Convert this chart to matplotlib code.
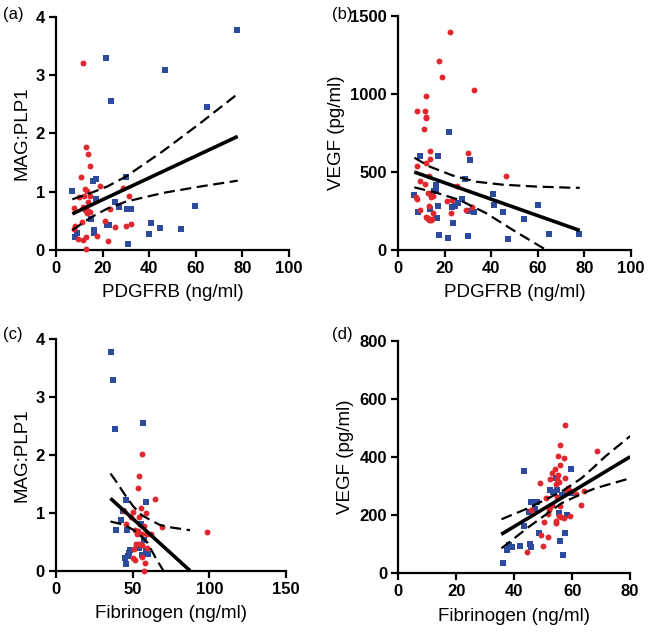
import numpy as np
import matplotlib
matplotlib.use("Agg")
import matplotlib.pyplot as plt

# ---------------------------------
# Data
# ---------------------------------
a_blue_x = [77.7, 21.3, 46.7, 23.4, 64.6, 30.0, 16.0, 17.0, 7.0, 17.1,
            25.3, 27.0, 30.6, 32.3, 59.7, 15.1, 40.7, 44.7, 53.7, 40.1,
            22.0, 22.7, 9.1, 8.3, 16.1, 16.3, 30.7]
a_blue_y = [3.78, 3.29, 3.09, 2.56, 2.46, 1.25, 1.19, 1.22, 1.02, 0.88,
            0.82, 0.74, 0.70, 0.71, 0.75, 0.53, 0.47, 0.37, 0.36, 0.28,
            0.43, 0.43, 0.29, 0.22, 0.34, 0.30, 0.11]
a_red_x = [11.4, 12.9, 13.9, 14.7, 10.9, 18.9, 28.9, 12.3, 13.1, 11.9,
           10.0, 14.6, 31.3, 13.6, 11.6, 7.7, 12.3, 13.1, 14.4, 12.9,
           13.7, 23.1, 11.3, 20.9, 25.1, 30.0, 32.3, 8.3, 7.7, 17.4,
           13.0, 9.4, 11.7, 22.3, 12.7]
a_red_y = [3.21, 1.76, 1.64, 1.44, 1.25, 1.09, 1.06, 1.04, 1.01, 0.93,
           0.91, 0.93, 0.92, 0.82, 0.74, 0.72, 0.68, 0.64, 0.65, 0.70,
           0.67, 0.70, 0.48, 0.49, 0.39, 0.42, 0.45, 0.41, 0.36, 0.24,
           0.22, 0.18, 0.17, 0.16, 0.01]
# regression line and 95% band (a)
a_fit_x = [7, 78]
a_fit_y = [0.62, 1.95]
a_band_x = [7, 15, 22, 30, 46, 62, 78]
a_band_hi = [0.87, 0.98, 1.09, 1.26, 1.70, 2.18, 2.68]
a_band_lo = [0.34, 0.56, 0.71, 0.83, 0.98, 1.09, 1.19]

b_blue_x = [21.9, 9.3, 17.1, 30.9, 28.9, 16.4, 15.4, 16.4, 6.9, 27.3,
            25.6, 24.6, 23.0, 17.1, 40.6, 41.0, 60.0, 45.0, 30.6, 32.6,
            13.6, 8.4, 54.0, 16.1, 16.6, 23.7, 65.0, 17.6, 21.6, 30.1,
            47.0, 77.5]
b_blue_y = [758, 604, 602, 574, 452, 418, 380, 378, 350, 324,
            303, 282, 277, 280, 361, 286, 290, 245, 252, 243,
            265, 241, 200, 203, 203, 175, 100, 94, 79, 87,
            70, 100]
b_red_x = [22.4, 17.7, 19.0, 32.6, 11.9, 8.3, 11.6, 12.1, 12.0, 11.0,
           13.7, 13.7, 30.1, 12.1, 8.3, 46.3, 13.3, 9.4, 11.7, 25.3,
           13.0, 14.0, 14.9, 14.0, 7.7, 8.0, 21.0, 23.1, 13.3, 31.7,
           9.4, 29.1, 14.9, 22.7, 12.0, 12.9, 13.3, 14.0, 14.6, 12.6]
b_red_y = [1398, 1212, 1105, 1022, 988, 892, 888, 849, 843, 775,
           636, 583, 623, 555, 540, 474, 476, 444, 420, 412,
           363, 354, 344, 341, 337, 329, 314, 318, 284, 277,
           256, 256, 239, 235, 212, 203, 195, 190, 198, 203]
b_fit_x = [7, 78]
b_fit_y = [499, 125]
b_hi_x = [7, 13.6, 23.6, 33.6, 45, 59.3, 73.6, 78]
b_hi_y = [591, 534, 476, 437, 418, 406, 399, 398]
b_lo_x = [7, 16.4, 26.4, 37.9, 49.3, 63.6]
b_lo_y = [401, 367, 320, 235, 128, 0]

c_blue_x = [35.9, 37.4, 38.5, 57.0, 45.9, 58.9, 43.5, 42.4, 39.3, 46.1,
            55.7, 57.6, 48.3, 47.4, 46.7, 45.2, 45.4, 58.5, 60.0, 55.9,
            52.8, 54.1]
c_blue_y = [3.78, 3.29, 2.45, 2.56, 1.22, 1.18, 1.03, 0.87, 0.70, 0.71,
            0.81, 0.53, 0.36, 0.30, 0.25, 0.22, 0.11, 0.36, 0.28, 0.27,
            0.44, 0.40]
c_red_x = [56.1, 54.3, 53.7, 64.3, 55.2, 50.4, 58.7, 44.3, 49.1, 54.1,
           45.9, 57.4, 51.7, 53.5, 69.1, 98.5, 56.3, 53.0, 59.1, 61.7,
           52.2, 54.3, 51.1, 56.1, 59.3, 50.0, 51.5, 56.1, 57.8, 57.4]
c_red_y = [2.02, 1.63, 1.43, 1.24, 1.08, 1.02, 0.99, 1.03, 0.92, 0.92,
           0.80, 0.78, 0.70, 0.69, 0.75, 0.67, 0.63, 0.63, 0.63, 0.63,
           0.46, 0.46, 0.37, 0.45, 0.39, 0.22, 0.18, 0.23, 0.14, 0.0]
c_fit_x = [35.5, 87.4]
c_fit_y = [1.25, 0.0]
c_hi_x = [35.5, 38.5, 45, 50.4, 55.9, 61.3, 67.8, 74.4, 87.4]
c_hi_y = [1.68, 1.57, 1.31, 1.11, 0.96, 0.88, 0.79, 0.75, 0.70]
c_lo_x = [35.5, 45, 52.6, 59.2, 64.6, 70]
c_lo_y = [0.85, 0.79, 0.67, 0.50, 0.24, 0.0]

d_blue_x = [36.0, 37.4, 38.2, 39.1, 42.1, 45.4, 45.7, 43.3, 43.3, 45.8,
            47.8, 47.0, 45.2, 48.6, 52.2, 53.5, 54.7, 56.6, 58.2, 59.5,
            54.5, 59.6, 55.5, 58.3, 57.6, 55.8, 56.7]
d_blue_y = [37, 79, 97, 91, 94, 102, 89, 351, 164, 244,
            246, 222, 211, 138, 285, 280, 285, 268, 283, 275,
            327, 360, 206, 199, 138, 111, 63]
d_red_x = [57.4, 55.8, 68.4, 55.2, 57.2, 55.9, 54.0, 52.9, 55.0, 54.6,
           52.3, 57.5, 55.5, 54.3, 49.0, 58.5, 59.3, 58.2, 61.4, 64.0,
           63.2, 51.0, 54.6, 53.0, 52.3, 51.9, 55.9, 45.7, 51.6, 55.4,
           56.3, 57.1, 59.2, 54.3, 54.3, 50.1, 49.1, 51.5, 50.0, 44.3]
d_red_y = [511, 442, 420, 404, 395, 374, 359, 345, 337, 323,
           323, 327, 313, 306, 312, 292, 282, 282, 273, 283,
           236, 259, 263, 236, 229, 218, 232, 217, 203, 198,
           193, 190, 197, 180, 172, 175, 131, 125, 94, 74]
d_fit_x = [35.5, 80]
d_fit_y = [134, 401]
d_hi_x = [35.6, 44.8, 56.3, 63.2, 67.8, 71.3, 80]
d_hi_y = [186, 224, 281, 327, 368, 401, 472]
d_lo_x = [35.6, 44.8, 56.3, 63.2, 67.8, 80]
d_lo_y = [86, 158, 241, 273, 292, 327]

RED = "#e0282e"
BLUE = "#2d4b9c"


# ---------------------------------
# One scatter panel with its fit line and dashed band
# ---------------------------------
def draw_panel(ax, bx, by, rx, ry, fit, hi, lo, xlim, xticks, ylim, yticks, xlabel, ylabel):
    ax.scatter(bx, by, marker="s", s=16, color=BLUE, linewidths=0, zorder=3, clip_on=False)
    ax.scatter(rx, ry, marker="o", s=18, color=RED, linewidths=0, zorder=3, clip_on=False)

    ax.plot(fit[0], fit[1], color="black", lw=2.6, zorder=4, solid_capstyle="butt")
    ax.plot(hi[0], hi[1], color="black", lw=1.6, dashes=(5, 2.5), zorder=4)
    ax.plot(lo[0], lo[1], color="black", lw=1.6, dashes=(5, 2.5), zorder=4)

    ax.set_xlim(*xlim)
    ax.set_ylim(*ylim)
    ax.set_xticks(xticks)
    ax.set_yticks(yticks)
    for side in ["top", "right"]:
        ax.spines[side].set_visible(False)
    for side in ["left", "bottom"]:
        ax.spines[side].set_linewidth(1.6)
    ax.tick_params(width=1.6, length=5, labelsize=12, pad=3)
    for lab in ax.get_xticklabels() + ax.get_yticklabels():
        lab.set_fontweight("bold")
    ax.set_xlabel(xlabel, fontsize=13.5, labelpad=6)
    ax.set_ylabel(ylabel, fontsize=13.5, labelpad=4)


plt.rcParams["font.family"] = ["Liberation Sans", "DejaVu Sans"]

fig = plt.figure(figsize=(6.5, 6.39), dpi=100)

ax_a = fig.add_axes([0.0862, 0.6088, 0.3584, 0.3646])
ax_b = fig.add_axes([0.6123, 0.6088, 0.3585, 0.3666])
ax_c = fig.add_axes([0.0862, 0.1069, 0.3538, 0.3621])
ax_d = fig.add_axes([0.6128, 0.1028, 0.3567, 0.3640])

draw_panel(ax_a, a_blue_x, a_blue_y, a_red_x, a_red_y,
           (a_fit_x, a_fit_y), (a_band_x, a_band_hi), (a_band_x, a_band_lo),
           (0, 100), [0, 20, 40, 60, 80, 100], (0, 4), [0, 1, 2, 3, 4],
           "PDGFRB (ng/ml)", "MAG:PLP1")
draw_panel(ax_b, b_blue_x, b_blue_y, b_red_x, b_red_y,
           (b_fit_x, b_fit_y), (b_hi_x, b_hi_y), (b_lo_x, b_lo_y),
           (0, 100), [0, 20, 40, 60, 80, 100], (0, 1500), [0, 500, 1000, 1500],
           "PDGFRB (ng/ml)", "VEGF (pg/ml)")
draw_panel(ax_c, c_blue_x, c_blue_y, c_red_x, c_red_y,
           (c_fit_x, c_fit_y), (c_hi_x, c_hi_y), (c_lo_x, c_lo_y),
           (0, 150), [0, 50, 100, 150], (0, 4), [0, 1, 2, 3, 4],
           "Fibrinogen (ng/ml)", "MAG:PLP1")
draw_panel(ax_d, d_blue_x, d_blue_y, d_red_x, d_red_y,
           (d_fit_x, d_fit_y), (d_hi_x, d_hi_y), (d_lo_x, d_lo_y),
           (0, 80), [0, 20, 40, 60, 80], (0, 800), [0, 200, 400, 600, 800],
           "Fibrinogen (ng/ml)", "VEGF (pg/ml)")

# panel letters
for lab, (px, py) in zip(["(a)", "(b)", "(c)", "(d)"],
                         [(3, 632), (332, 632), (3, 312), (332, 312)]):
    fig.text(px / 650, py / 639, lab, fontsize=12, va="top", ha="left")

fig.savefig("out.png", dpi=100)
